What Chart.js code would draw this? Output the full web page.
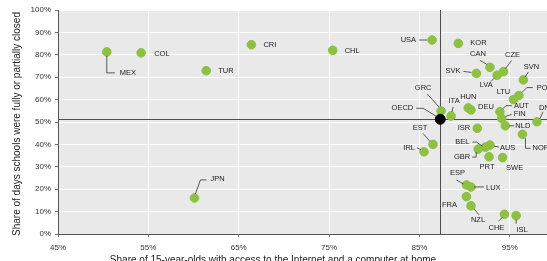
<!DOCTYPE html>
<html>
<head>
<meta charset="utf-8">
<script src="https://cdn.jsdelivr.net/npm/chart.js@4.4.1/dist/chart.umd.min.js"></script>
<style>
  html, body { margin: 0; padding: 0; background: #fff; overflow: hidden; }
  #wrap { width: 565px; height: 266px; }
</style>
</head>
<body>
<div id="wrap"><canvas id="chart" width="565" height="266"></canvas></div>
<script>
// Share of 15-year-olds with internet + computer at home (x) vs share of days schools closed (y)
const countries = ['MEX','COL','TUR','CRI','CHL','JPN','USA','KOR','CAN','LVA','CZE','SVK','SVN','LTU','POL',
  'GRC','ITA','HUN','DEU','AUT','FIN','NLD','DNK','NOR','ISR','EST','IRL','GBR','BEL','AUS','PRT','SWE',
  'ESP','LUX','FRA','NZL','CHE','ISL'];
const internetAccess = [50.4, 54.2, 61.4, 66.4, 75.4, 60.1, 86.4, 89.3, 92.8, 93.6, 94.3, 91.3, 96.5, 95.4, 96.0,
  87.4, 88.5, 90.4, 90.7, 93.9, 94.1, 94.5, 98.0, 96.4, 91.4, 86.5, 85.5, 91.5, 92.3, 92.8, 92.7, 94.2,
  90.2, 90.7, 90.2, 90.7, 94.4, 95.7];
const daysClosed = [81.3, 80.9, 72.9, 84.5, 82.0, 16.1, 86.6, 85.1, 74.4, 70.9, 72.5, 71.7, 68.8, 60.0, 61.8,
  54.9, 52.7, 56.3, 55.4, 54.6, 51.6, 48.3, 50.1, 44.5, 47.2, 40.0, 36.7, 37.9, 38.8, 39.7, 34.5, 34.1,
  21.9, 21.0, 16.7, 12.6, 8.8, 8.2];
const oecdAccess = [87.3];
const oecdClosed = [51.2];

const xTickValues = [45, 55, 65, 75, 85, 95];
const yTickValues = [0, 10, 20, 30, 40, 50, 60, 70, 80, 90, 100];

const xTitle = 'Share of 15-year-olds with access to the Internet and a computer at home';
const yTitle = 'Share of days schools were fully or partially closed';

// label placement relative to the point (pixels), with optional leader line
const labelPos = {
  MEX: { dx: 13, dy: 21, line: [[0,4],[0,21],[8,21]] },
  COL: { dx: 13, dy: 1 },
  TUR: { dx: 12, dy: 0 },
  CRI: { dx: 12, dy: 0 },
  CHL: { dx: 12, dy: 1 },
  JPN: { dx: 16, dy: -19, line: [[1,-4],[6,-18],[12,-18]] },
  USA: { dx: -16, dy: 0, align: 'right', line: [[-5,0],[-13,0]] },
  KOR: { dx: 12, dy: 0 },
  CAN: { dx: -12, dy: -13, align: 'center', line: [[-3,-3],[-10,-7]] },
  CZE: { dx: 9, dy: -17, align: 'center', line: [[2,-3],[8,-11]] },
  SVK: { dx: -16, dy: -2, align: 'right', line: [[-5,-1],[-13,-2]] },
  LVA: { dx: -11, dy: 10, align: 'center', line: [[-3,3],[-6,6]] },
  SVN: { dx: 8, dy: -13, align: 'center', line: [[2,-3],[5,-8]] },
  LTU: { dx: -10, dy: -8, align: 'center' },
  POL: { dx: 18, dy: -8, line: [[3,-3],[8,-8],[14,-8]] },
  GRC: { dx: -18, dy: -23, align: 'center', line: [[-2,-4],[-14,-17]] },
  OECD: { dx: -27, dy: -11.5, align: 'right', line: [[-4,-3],[-17,-11],[-24,-11]] },
  ITA: { dx: 3, dy: -15, align: 'center', line: [[1,-4],[2,-9]] },
  HUN: { dx: 0, dy: -11, align: 'center' },
  DEU: { dx: 7, dy: -3 },
  AUT: { dx: 14, dy: -6, line: [[3,-3],[6,-6],[12,-6]] },
  FIN: { dx: 12, dy: -4, line: [[4,-2],[10,-4]] },
  NLD: { dx: 10, dy: 0, line: [[4,0],[9,0]] },
  DNK: { dx: 2, dy: -14, line: [[3,-3],[6,-10]] },
  NOR: { dx: 10, dy: 14, line: [[3,4],[3,14],[8,14]] },
  ISR: { dx: -7, dy: 0, align: 'right' },
  EST: { dx: -13, dy: -16, align: 'center', line: [[-3,-3],[-10,-11]] },
  IRL: { dx: -9, dy: -4, align: 'right', line: [[-3,-2],[-7,-4]] },
  BEL: { dx: -16, dy: -5, align: 'right', line: [[-3,-1],[-9,-5],[-13,-5]] },
  GBR: { dx: -8, dy: 8, align: 'right', line: [[-2,3],[-2,8],[-6,8]] },
  AUS: { dx: 10, dy: 3, line: [[4,1],[9,2]] },
  PRT: { dx: -2, dy: 10, align: 'center' },
  SWE: { dx: 12, dy: 10, align: 'center' },
  ESP: { dx: -9, dy: -12, align: 'center', line: [[-3,-1],[-10,-5]] },
  LUX: { dx: 15, dy: 1, line: [[3,0],[13,0]] },
  FRA: { dx: -17, dy: 8, align: 'center' },
  NZL: { dx: 7, dy: 14, align: 'center', line: [[3,3],[8,9]] },
  CHE: { dx: -8, dy: 14, align: 'center', line: [[-2,3],[-6,7]] },
  ISL: { dx: 6, dy: 14, align: 'center', line: [[0,4],[0,8]] }
};

const pct = v => v + '%';

const plotBg = {
  id: 'plotBg',
  beforeDraw(chart) {
    const { ctx, chartArea: a } = chart;
    ctx.save();
    ctx.fillStyle = '#e9e9e9';
    ctx.fillRect(a.left, a.top, a.right - a.left, a.bottom - a.top);
    ctx.restore();
  }
};

// OECD average cross lines
const avgLines = {
  id: 'avgLines',
  beforeDatasetsDraw(chart) {
    const { ctx, chartArea: a, scales } = chart;
    const x = Math.round(scales.x.getPixelForValue(oecdAccess[0])) + 0.5;
    const y = Math.round(scales.y.getPixelForValue(oecdClosed[0])) + 0.5;
    ctx.save();
    ctx.strokeStyle = '#4d4d4d';
    ctx.lineWidth = 1;
    ctx.beginPath();
    ctx.moveTo(a.left, y); ctx.lineTo(a.right, y);
    ctx.moveTo(x, a.top); ctx.lineTo(x, a.bottom);
    ctx.stroke();
    ctx.restore();
  }
};

const countryLabels = {
  id: 'countryLabels',
  afterDatasetsDraw(chart) {
    const ctx = chart.ctx;
    ctx.save();
    ctx.font = '7.5px "Liberation Sans", Arial, sans-serif';
    ctx.fillStyle = '#222';
    ctx.strokeStyle = '#333';
    ctx.lineWidth = 0.8;
    ctx.textBaseline = 'middle';
    chart.data.datasets.forEach((ds, di) => {
      const meta = chart.getDatasetMeta(di);
      meta.data.forEach((pt, i) => {
        const code = ds.codes[i];
        const p = labelPos[code];
        if (!p) return;
        if (p.line) {
          ctx.beginPath();
          p.line.forEach(([lx, ly], k) => {
            if (k === 0) ctx.moveTo(pt.x + lx, pt.y + ly);
            else ctx.lineTo(pt.x + lx, pt.y + ly);
          });
          ctx.stroke();
        }
        ctx.textAlign = p.align || 'left';
        ctx.fillText(code, pt.x + p.dx, pt.y + p.dy);
      });
    });
    ctx.restore();
  }
};

const axisTitles = {
  id: 'axisTitles',
  afterDraw(chart) {
    const { ctx, chartArea: a } = chart;
    ctx.save();
    ctx.font = '10px "Liberation Sans", Arial, sans-serif';
    ctx.fillStyle = '#222';
    ctx.textAlign = 'center';
    ctx.textBaseline = 'middle';
    ctx.fillText(xTitle, 273, 260);
    ctx.translate(17, (a.top + a.bottom) / 2 + 2);
    ctx.rotate(-Math.PI / 2);
    ctx.fillText(yTitle, 0, 0);
    ctx.restore();
  }
};

new Chart(document.getElementById('chart'), {
  type: 'scatter',
  data: {
    datasets: [
      {
        label: 'OECD',
        codes: ['OECD'],
        data: oecdAccess.map((v, i) => ({ x: v, y: oecdClosed[i] })),
        backgroundColor: '#000',
        borderColor: '#000',
        pointRadius: 5,
        order: 0
      },
      {
        label: 'Countries',
        codes: countries,
        data: internetAccess.map((v, i) => ({ x: v, y: daysClosed[i] })),
        backgroundColor: '#8cc142',
        borderColor: '#8cc142',
        pointRadius: 4.3,
        order: 1
      }
    ]
  },
  options: {
    responsive: false,
    animation: false,
    layout: { padding: { top: 10, right: 10, left: 0, bottom: 0 } },
    plugins: {
      legend: { display: false },
      tooltip: { enabled: false }
    },
    scales: {
      x: {
        type: 'linear',
        min: 45,
        max: 100,
        afterBuildTicks(scale) { scale.ticks = xTickValues.map(v => ({ value: v })); },
        afterFit(scale) { scale.height = 32; },
        border: { display: true, color: '#555', width: 1 },
        grid: { color: '#fff', lineWidth: 1, tickLength: 3, tickColor: '#777' },
        ticks: {
          padding: 6,
          color: '#333',
          font: { family: '"Liberation Sans Narrow", "Liberation Sans", Arial', size: 8 },
          callback: pct,
          maxRotation: 0
        }
      },
      y: {
        min: 0,
        max: 100,
        afterBuildTicks(scale) { scale.ticks = yTickValues.map(v => ({ value: v })); },
        afterFit(scale) { scale.width = 58; },
        border: { display: true, color: '#555', width: 1 },
        grid: { color: '#fff', lineWidth: 1, tickLength: 3, tickColor: '#777' },
        ticks: {
          padding: 4,
          color: '#333',
          font: { family: '"Liberation Sans Narrow", "Liberation Sans", Arial', size: 8 },
          callback: pct
        }
      }
    }
  },
  plugins: [plotBg, avgLines, countryLabels, axisTitles]
});
</script>
</body>
</html>
